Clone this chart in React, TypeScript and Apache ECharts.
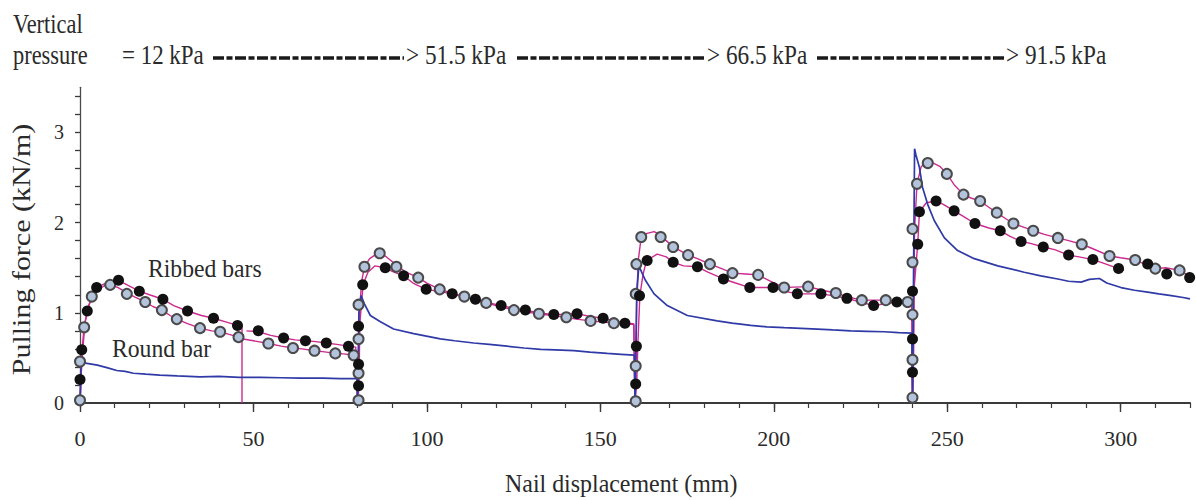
import React, { useEffect, useRef } from "react";
import * as echarts from "echarts";

// ---- Axis ticks / labels ----
const xTickValues = [0, 10, 20, 30, 40, 50, 60, 70, 80, 90, 100, 110, 120, 130, 140, 150, 160, 170, 180, 190, 200, 210, 220, 230, 240, 250, 260, 270, 280, 290, 300, 310, 320];
const xLabelValues = [0, 50, 100, 150, 200, 250, 300];
const yTickValues = [0, 0.2, 0.4, 0.6, 0.8, 1, 1.2, 1.4, 1.6, 1.8, 2, 2.2, 2.4, 2.6, 2.8, 3, 3.2, 3.4];
const yLabelValues = [0, 1, 2, 3];

// ---- Header texts ----
const pressureSteps = ["= 12 kPa", "> 51.5 kPa", "> 66.5 kPa", "> 91.5 kPa"];

// ---- Round bar (blue) ----
const roundBar: [number, number][] = [
  [0, 0], [0.3, 0.45], [2, 0.44], [5, 0.42], [8, 0.39], [10.6, 0.36], [13, 0.35], [15.4, 0.33], [19, 0.32], [23, 0.31], [28, 0.3], [34.6, 0.29], [40, 0.295], [46, 0.285], [52, 0.285], [58, 0.28], [63.5, 0.275], [70, 0.275], [75, 0.27], [79.8, 0.27], [80, 0],
  [80.4, 1.0], [81, 1.19], [82, 1.1], [83.7, 0.97], [86.6, 0.9], [90.4, 0.82], [96.2, 0.77], [103.9, 0.71], [108, 0.69], [113.5, 0.665], [118, 0.65], [123.1, 0.63], [128, 0.61], [132.8, 0.595], [137, 0.59], [142.4, 0.58], [147, 0.565], [152, 0.55], [156, 0.54], [159.8, 0.53], [160, 0],
  [160.5, 1.2], [161.1, 1.52], [163, 1.36], [165.5, 1.21], [169.3, 1.08], [175.1, 0.97], [183.7, 0.91], [188, 0.885], [193.4, 0.86], [198, 0.845], [203, 0.835], [212.6, 0.82], [217, 0.81], [222.2, 0.8], [227, 0.795], [231.8, 0.79], [236, 0.78], [239.8, 0.775], [240, 0],
  [240.6, 2.82], [241, 2.75], [242, 2.61], [242.9, 2.39], [244.4, 2.2], [246.3, 2.02], [249.2, 1.83], [253, 1.69], [257.8, 1.6], [264.6, 1.52], [272.2, 1.45], [277, 1.41], [281.9, 1.375], [285, 1.35], [288.6, 1.34], [291, 1.37], [293.9, 1.38], [296, 1.33], [300.1, 1.28], [304, 1.25], [307.8, 1.23], [311, 1.21], [314.6, 1.19], [318, 1.17], [320, 1.155],
];

// ---- Ribbed bar A (open markers) line ----
const ribbedALine: [number, number | null][] = [
  [0, 0], [0.3, 0.3], [0.8, 0.6], [1.5, 0.9], [2.5, 1.08], [3.5, 1.18], [5, 1.25], [7, 1.3], [9, 1.31], [11, 1.28], [13.5, 1.22], [16, 1.17], [18.8, 1.12], [21, 1.07], [23.6, 1.03], [26, 0.97], [27.9, 0.93], [31, 0.88], [34.6, 0.83], [38, 0.8], [40.4, 0.79], [43, 0.76], [45.7, 0.73], [47, 0.71], [50, 0.69], [54.3, 0.66], [58, 0.63], [61.4, 0.61], [64, 0.6], [67.6, 0.58], [70, 0.57], [73.6, 0.55], [76, 0.545], [78.9, 0.53], [80, 0.53], [80.2, 0],
  [80.5, 0.35], [80.6, 0.71], [80.7, 1.09], [81.2, 1.35], [82, 1.51], [83.5, 1.6], [85, 1.64], [86.4, 1.66], [88, 1.63], [91.2, 1.53], [94, 1.45], [97.5, 1.39], [100, 1.33], [103.7, 1.26], [107, 1.22], [110.8, 1.18], [114, 1.14], [117.1, 1.11], [121, 1.07], [125.1, 1.03], [128, 1.01], [132.3, 0.99], [136, 0.97], [140.2, 0.95], [143, 0.93], [147.2, 0.91], [150, 0.9], [153.9, 0.885], [157, 0.88], [159.7, 0.87], [160, 0],
  [160.3, 0.41], [160.5, 1.21], [161, 1.6], [161.8, 1.84], [163.5, 1.88], [165.5, 1.9], [167.4, 1.86], [169, 1.8], [171, 1.73], [173, 1.69], [175.3, 1.64], [178, 1.6], [181.6, 1.54], [185, 1.49], [188.1, 1.44], [192, 1.43], [195.5, 1.42], [199, 1.35], [203, 1.28], [206, 1.285], [209.9, 1.29], [214, 1.25], [217.9, 1.22], [221, 1.18], [225.4, 1.14], [229, 1.14], [232.3, 1.14], [236, 1.13], [238.6, 1.12], [239.8, 1.1], [240, 0],
  [240.3, 0.48], [240.4, 0.98], [240.5, 1.56], [240.6, 1.93], [241.3, 2.43], [242.5, 2.62], [243.9, 2.67], [246, 2.66], [248, 2.62], [249.9, 2.54], [252, 2.42], [254.7, 2.31], [257, 2.27], [259.5, 2.24], [262, 2.17], [264.3, 2.11], [267, 2.04], [269.1, 1.99], [272, 1.95], [274.8, 1.91], [278, 1.87], [281.9, 1.83], [285, 1.8], [288.8, 1.76], [292, 1.71], [296.8, 1.63], [300, 1.61], [304.2, 1.585], [307, 1.54], [310, 1.49], [313, 1.5], [317, 1.47], [320, 1.4],
];

// ---- Ribbed bar B (filled markers) line ----
const ribbedBLine: [number, number | null][] = [
  [0, 0], [0.3, 0.26], [0.6, 0.59], [1.2, 0.85], [2.1, 1.02], [3.3, 1.17], [4.8, 1.28], [7, 1.32], [9, 1.34], [11.1, 1.36], [14, 1.3], [17.1, 1.24], [20, 1.2], [23.9, 1.15], [27, 1.08], [31, 1.02], [35, 0.97], [38.5, 0.94], [42, 0.9], [45.4, 0.86], [46.7, 0.85], [46.7, 0], [46.8, null],
  [48, 0.8], [51.4, 0.79], [55, 0.75], [58.7, 0.72], [62, 0.7], [65, 0.69], [68, 0.68], [71, 0.665], [74, 0.65], [77.4, 0.63], [79.5, 0.62], [80, 0],
  [80.4, 0.43], [80.6, 0.85], [81.6, 1.31], [83, 1.45], [85, 1.52], [88, 1.5], [90, 1.46], [93.3, 1.41], [96, 1.33], [99.8, 1.26], [103, 1.24], [107.3, 1.21], [110, 1.18], [114, 1.15], [118, 1.11], [121.4, 1.08], [125, 1.05], [128.4, 1.03], [132, 1.0], [136.6, 0.98], [140, 0.985], [143.3, 0.99], [147, 0.96], [150.8, 0.94], [154, 0.91], [157.1, 0.885], [159.6, 0.88], [160, 0],
  [160.5, 0.21], [160.8, 0.63], [161.4, 1.19], [162.3, 1.42], [163.3, 1.58], [166.4, 1.65], [169, 1.62], [171, 1.56], [174, 1.52], [178, 1.51], [181, 1.45], [185.5, 1.375], [189, 1.33], [193.1, 1.28], [196, 1.28], [199.8, 1.28], [203, 1.24], [206.8, 1.21], [210, 1.21], [213.6, 1.21], [217, 1.19], [221.1, 1.16], [225, 1.12], [228.8, 1.08], [232, 1.1], [235.5, 1.12], [238, 1.11], [239.8, 1.1], [240, 0],
  [240.2, 0.34], [240.3, 0.71], [240.4, 1.24], [241.5, 1.76], [242, 2.12], [244, 2.22], [246.8, 2.24], [249, 2.2], [252, 2.13], [255, 2.06], [258, 1.99], [262, 1.94], [265.3, 1.91], [268, 1.85], [271.3, 1.79], [274, 1.77], [277.7, 1.73], [281, 1.7], [285, 1.64], [288, 1.62], [292, 1.59], [295, 1.55], [299.4, 1.49], [301, 1.47],
];

// ---- Markers ----
const ribbedAMarkers: [number, number][] = [
  [0, 0.03], [0, 0.46], [1.2, 0.84], [3.4, 1.18], [8.7, 1.31], [13.5, 1.21], [18.8, 1.12], [23.6, 1.03], [27.9, 0.93], [34.6, 0.83], [40.4, 0.79], [45.7, 0.73], [54.3, 0.66], [61.4, 0.61], [67.6, 0.58], [73.6, 0.55], [78.9, 0.53],
  [80.3, 0.03], [80.3, 0.33], [80.3, 0.71], [80.3, 1.09], [82, 1.51], [86.4, 1.66], [91.2, 1.51], [97.5, 1.39], [103.7, 1.26], [110.8, 1.18], [117.1, 1.11], [125.1, 1.03], [132.3, 0.99], [140.2, 0.95], [147.2, 0.91], [153.9, 0.885],
  [160.2, 0.02], [160.2, 0.41], [160.2, 1.21], [160.4, 1.54], [161.8, 1.84], [167.4, 1.84], [171, 1.73], [175.3, 1.64], [181.6, 1.54], [188.1, 1.44], [195.5, 1.42], [203, 1.28], [209.9, 1.29], [217.9, 1.22], [225.4, 1.14], [232.3, 1.14], [238.6, 1.12],
  [240, 0.06], [240, 0.48], [240, 0.98], [240, 1.56], [240, 1.93], [241.3, 2.43], [244.4, 2.66], [249.9, 2.54], [254.7, 2.31], [259.5, 2.24], [264.3, 2.11], [269.1, 1.99], [274.8, 1.91], [281.9, 1.83], [288.8, 1.76], [296.8, 1.63], [304.2, 1.585], [310, 1.49], [317, 1.47],
];

const ribbedBMarkers: [number, number][] = [
  [0, 0.26], [0.5, 0.59], [2.1, 1.02], [4.8, 1.28], [11.1, 1.36], [17.1, 1.24], [23.9, 1.15], [31, 1.02], [38.5, 0.94], [45.4, 0.86], [51.4, 0.8], [58.7, 0.72], [65, 0.69], [71, 0.665], [77.4, 0.63],
  [80.3, 0.19], [80.3, 0.43], [80.3, 0.85], [81.5, 1.31], [88, 1.5], [93.3, 1.41], [99.8, 1.26], [107.3, 1.21], [114, 1.15], [121.4, 1.08], [128.4, 1.03], [136.6, 0.98], [143.3, 0.99], [150.8, 0.94], [157.1, 0.885],
  [160.2, 0.21], [160.4, 0.63], [161.3, 1.19], [163.5, 1.58], [171, 1.56], [178, 1.51], [185.5, 1.375], [193.1, 1.28], [199.8, 1.28], [206.8, 1.21], [213.6, 1.21], [221.1, 1.16], [228.8, 1.08], [235.5, 1.12],
  [240, 0.34], [240, 0.71], [240, 1.24], [241.5, 1.76], [242, 2.12], [246.8, 2.24], [252, 2.13], [258, 1.99], [265.3, 1.91], [271.3, 1.79], [277.7, 1.73], [285, 1.64], [292, 1.59], [299.4, 1.49], [307.8, 1.54], [313.3, 1.43], [319.9, 1.39],
];

const SERIF = "'Liberation Serif', 'Times New Roman', serif";
const BLUE = "#2f3aa6";
const MAGENTA = "#cc2a90";
const TEXT = "#2a2a2a";

function headerText(text: string, x: number, y: number, scaleX: number) {
  return {
    type: "text",
    x,
    y,
    scaleX,
    silent: true,
    style: { text, fontFamily: SERIF, fontSize: 28, fill: TEXT, align: "left", verticalAlign: "middle" },
  };
}

function dashLine(x1: number, x2: number, y: number) {
  return {
    type: "line",
    silent: true,
    shape: { x1, y1: y, x2, y2: y },
    style: { stroke: "#1a1a1a", lineWidth: 3.5, lineCap: "butt", lineDash: [11, 2.5, 6, 2.5] },
  };
}

export default function App() {
  const ref = useRef<HTMLDivElement>(null);
  useEffect(() => {
    if (!ref.current) return;
    const chart = echarts.init(ref.current, null, { renderer: "svg" });
    const option: any = {
      animation: false,
      backgroundColor: "#ffffff",
      textStyle: { fontFamily: SERIF },
      grid: { left: 80, right: 6, top: 87.3, bottom: 97, containLabel: false },
      xAxis: [
        {
          type: "value",
          min: 0,
          max: 320,
          position: "bottom",
          axisLine: { show: true, lineStyle: { color: "#3a3a3a", width: 2.2 } },
          axisTick: { show: true, length: 5, customValues: xTickValues, lineStyle: { color: "#3a3a3a", width: 1.2 } },
          axisLabel: { show: true, customValues: xLabelValues, margin: 24, fontSize: 22, fontFamily: SERIF, color: TEXT },
          splitLine: { show: false },
        },
        {
          type: "value",
          min: 0,
          max: 320,
          position: "bottom",
          axisLine: { show: false },
          axisTick: { show: true, length: 9, customValues: xLabelValues, lineStyle: { color: "#3a3a3a", width: 1.4 } },
          axisLabel: { show: false },
          splitLine: { show: false },
        },
      ],
      yAxis: {
        type: "value",
        min: 0,
        max: 3.5,
        axisLine: { show: true, lineStyle: { color: "#4a4a4a", width: 1.3 } },
        axisTick: { show: true, length: 5, customValues: yTickValues, lineStyle: { color: "#3a3a3a", width: 1.3 } },
        axisLabel: { show: true, customValues: yLabelValues, margin: 16, fontSize: 20, fontFamily: SERIF, color: TEXT },
        splitLine: { show: false },
      },
      graphic: [
        headerText("Vertical", 13, 22.8, 0.8),
        headerText("pressure", 13, 54.3, 0.8),
        headerText(pressureSteps[0], 122, 54.5, 0.82),
        dashLine(213, 404, 58),
        headerText(pressureSteps[1], 406, 54.5, 0.83),
        dashLine(517, 706, 58),
        headerText(pressureSteps[2], 707, 54.5, 0.83),
        dashLine(817, 1004, 58),
        headerText(pressureSteps[3], 1006, 54.5, 0.83),
        {
          type: "text", x: 148, y: 268.2, scaleX: 0.91, silent: true,
          style: { text: "Ribbed bars", fontFamily: SERIF, fontSize: 26, fill: TEXT, align: "left", verticalAlign: "middle" },
        },
        {
          type: "text", x: 112, y: 348.2, scaleX: 0.91, silent: true,
          style: { text: "Round bar", fontFamily: SERIF, fontSize: 26, fill: TEXT, align: "left", verticalAlign: "middle" },
        },
        {
          type: "text", x: 505, y: 483.2, scaleX: 0.92, silent: true,
          style: { text: "Nail displacement (mm)", fontFamily: SERIF, fontSize: 26, fill: TEXT, align: "left", verticalAlign: "middle" },
        },
        {
          type: "text", x: 21.5, y: 249.5, rotation: Math.PI / 2, scaleY: 0.85, silent: true,
          style: { text: "Pulling force (kN/m)", fontFamily: SERIF, fontSize: 30, fill: TEXT, align: "center", verticalAlign: "middle" },
        },
      ],
      series: [
        {
          name: "Ribbed bar A",
          type: "line",
          data: ribbedALine,
          showSymbol: false,
          symbol: "none",
          connectNulls: false,
          lineStyle: { color: MAGENTA, width: 1.4 },
          z: 2,
        },
        {
          name: "Ribbed bar B",
          type: "line",
          data: ribbedBLine,
          showSymbol: false,
          symbol: "none",
          connectNulls: false,
          lineStyle: { color: MAGENTA, width: 1.4 },
          z: 2,
        },
        {
          name: "Round bar",
          type: "line",
          data: roundBar,
          showSymbol: false,
          symbol: "none",
          lineStyle: { color: BLUE, width: 1.7 },
          z: 3,
        },
        {
          name: "Ribbed bar A markers",
          type: "scatter",
          data: ribbedAMarkers,
          symbol: "circle",
          symbolSize: 10,
          itemStyle: { color: "#b3c3dc", borderColor: "#4a4a4a", borderWidth: 2, opacity: 1 },
          z: 4,
        },
        {
          name: "Ribbed bar B markers",
          type: "scatter",
          data: ribbedBMarkers,
          symbol: "circle",
          symbolSize: 11,
          itemStyle: { color: "#111111", opacity: 1 },
          z: 5,
        },
      ],
    };
    chart.setOption(option);
    return () => chart.dispose();
  }, []);
  return <div ref={ref} style={{ position: "fixed", left: 0, top: 0, width: 1196, height: 500 }} />;
}
